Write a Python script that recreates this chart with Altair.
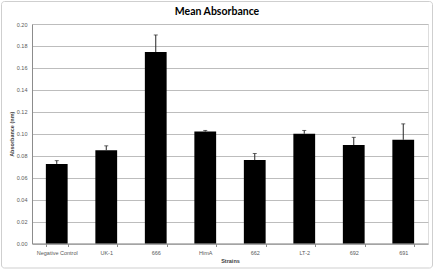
import altair as alt
import pandas as pd

strains = ["Negative Control", "UK-1", "666", "HimA", "662", "LT-2", "692", "691"]
means = [0.0725, 0.085, 0.1745, 0.102, 0.076, 0.100, 0.0897, 0.0945]
errs = [0.003, 0.004, 0.0155, 0.001, 0.006, 0.003, 0.007, 0.0145]
y_ticks = [0.00, 0.02, 0.04, 0.06, 0.08, 0.10, 0.12, 0.14, 0.16, 0.18, 0.20]

df = pd.DataFrame({"Strain": strains, "Mean": means, "Err": errs})
df["Upper"] = df["Mean"] + df["Err"]

FONT = "Liberation Sans"
LABEL = "#595959"

x_axis = alt.Axis(
    labelAngle=0, labelFontSize=5.5, labelColor=LABEL, labelFont=FONT,
    labelPadding=4, tickBand="extent", tickSize=3, tickColor="#8c8c8c",
    domainColor="#8c8c8c", titleFontSize=5.5, titleFont=FONT,
    titleFontWeight="bold", titleColor="#404040", titlePadding=2,
    labelOverlap=False,
)
y_axis = alt.Axis(
    values=y_ticks, format=".2f", labelFontSize=5.5, labelColor=LABEL,
    labelFont=FONT, ticks=False, labelPadding=5, gridColor="#bdbdbd",
    domainColor="#8c8c8c", titleFontSize=5.5, titleFont=FONT,
    titleFontWeight="bold", titleColor="#404040", titlePadding=2,
    labelOverlap=False,
)
y_scale = alt.Scale(domain=[0, 0.2], nice=False)
x_scale = alt.Scale(paddingInner=0.56, paddingOuter=0.28)

base = alt.Chart(df)

bars = base.mark_bar(color="black").encode(
    x=alt.X("Strain:N", sort=strains, title="Strains", scale=x_scale, axis=x_axis),
    y=alt.Y("Mean:Q", title="Absorbance (nm)", scale=y_scale, axis=y_axis),
)

err_rule = base.mark_rule(color="#262626", strokeWidth=1).encode(
    x=alt.X("Strain:N", sort=strains, title="Strains", scale=x_scale, axis=x_axis),
    y=alt.Y("Mean:Q", title="Absorbance (nm)", scale=y_scale, axis=y_axis),
    y2="Upper:Q",
)

caps = base.mark_tick(color="#262626", thickness=1, size=4, orient="horizontal").encode(
    x=alt.X("Strain:N", sort=strains, title="Strains", scale=x_scale, axis=x_axis),
    y=alt.Y("Upper:Q", title="Absorbance (nm)", scale=y_scale, axis=y_axis),
)

frame = alt.Chart(pd.DataFrame({"f": [0]})).mark_rect(
    fill="transparent", stroke="#cfcfcf", strokeWidth=1, cornerRadius=3
).encode(
    x=alt.value(-30.5), x2=alt.value(400.5), y=alt.value(-22.5), y2=alt.value(244)
)

chart = alt.layer(bars, err_rule, caps, frame).properties(
    width=396,
    height=219.5,
    title=alt.TitleParams(
        "Mean Absorbance", fontSize=10.5, font="Lato", fontWeight="bold",
        color="black", dx=-13, offset=-16, anchor="middle", frame="group",
    ),
    autosize=alt.AutoSizeParams(type="none"),
    padding={"left": 32, "top": 24, "right": 7, "bottom": 28},
).configure_view(stroke=None).configure(background="white")

chart.save("out.html", embed_options={"renderer": "svg", "actions": False})
